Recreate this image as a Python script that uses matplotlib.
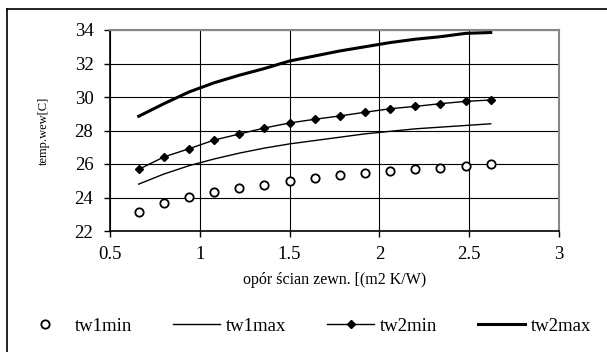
import matplotlib
matplotlib.use("Agg")
import matplotlib.pyplot as plt
from matplotlib.lines import Line2D

plt.rcParams['font.family'] = ['Liberation Serif', 'DejaVu Serif']

# opór ścian zewnętrznych [m2 K/W]
opor = [0.66, 0.80, 0.94, 1.08, 1.22, 1.36, 1.50, 1.64, 1.78, 1.92, 2.06, 2.20, 2.34, 2.48, 2.62]
tw1min = [23.15, 23.7, 24.05, 24.33, 24.57, 24.77, 24.99, 25.18, 25.36, 25.44, 25.58, 25.7, 25.78, 25.88, 26.0]
tw1max = [24.8, 25.4, 25.9, 26.3, 26.65, 26.95, 27.2, 27.4, 27.6, 27.8, 27.95, 28.1, 28.2, 28.3, 28.4]
tw2min = [25.68, 26.42, 26.91, 27.43, 27.79, 28.15, 28.45, 28.67, 28.87, 29.09, 29.3, 29.44, 29.6, 29.74, 29.82]
tw2max = [28.85, 29.6, 30.3, 30.85, 31.3, 31.7, 32.15, 32.45, 32.75, 33.0, 33.25, 33.45, 33.6, 33.8, 33.85]

fig = plt.figure(figsize=(6.07, 3.52), dpi=100)
ax = fig.add_axes([110/607, 1-231/352, 449/607, 201/352])

ax.plot(opor, tw1min, linestyle='none', marker='o', markersize=6,
        markerfacecolor='white', markeredgecolor='black', markeredgewidth=1.3, label='tw1min')
ax.plot(opor, tw1max, color='black', linewidth=1.0, label='tw1max')
ax.plot(opor, tw2min, color='black', linewidth=1.0, marker='D', markersize=4, label='tw2min')
ax.plot(opor, tw2max, color='black', linewidth=2.2, label='tw2max')

ax.set_xlim(0.5, 3)
ax.set_ylim(22, 34)
ax.set_xticks([0.5, 1, 1.5, 2, 2.5, 3])
ax.set_xticklabels(['0.5', '1', '1.5', '2', '2.5', '3'])
ax.set_yticks(range(22, 35, 2))
ax.grid(True, color='black', linewidth=0.8)
ax.tick_params(direction='out', length=4, width=1, labelsize=13.5)
ax.tick_params(axis='x', pad=7)
ax.tick_params(axis='y', pad=8)
ax.spines['left'].set_linewidth(1.2)
ax.spines['bottom'].set_linewidth(1.2)
for s in ('top', 'right'):
    ax.spines[s].set_color('#888888')
    ax.spines[s].set_linewidth(1.5)

ax.set_xlabel('opór ścian zewn. [(m2 K/W)', fontsize=11.5, labelpad=6)
ax.set_ylabel('temp.wew[C]', fontsize=9, labelpad=18)

fig.legend(loc='center', bbox_to_anchor=(0.505, 1-326/352), ncol=4, frameon=False,
           fontsize=13.5, handlelength=2.5, columnspacing=2.2, handletextpad=0.3)

# ramka wykresu
fig.add_artist(Line2D([7/607, 1], [1-9/352, 1-9/352], color='black', linewidth=1.2))
fig.add_artist(Line2D([7/607, 7/607], [0, 1-9/352], color='black', linewidth=1.2))

fig.savefig('out.png', dpi=100)
